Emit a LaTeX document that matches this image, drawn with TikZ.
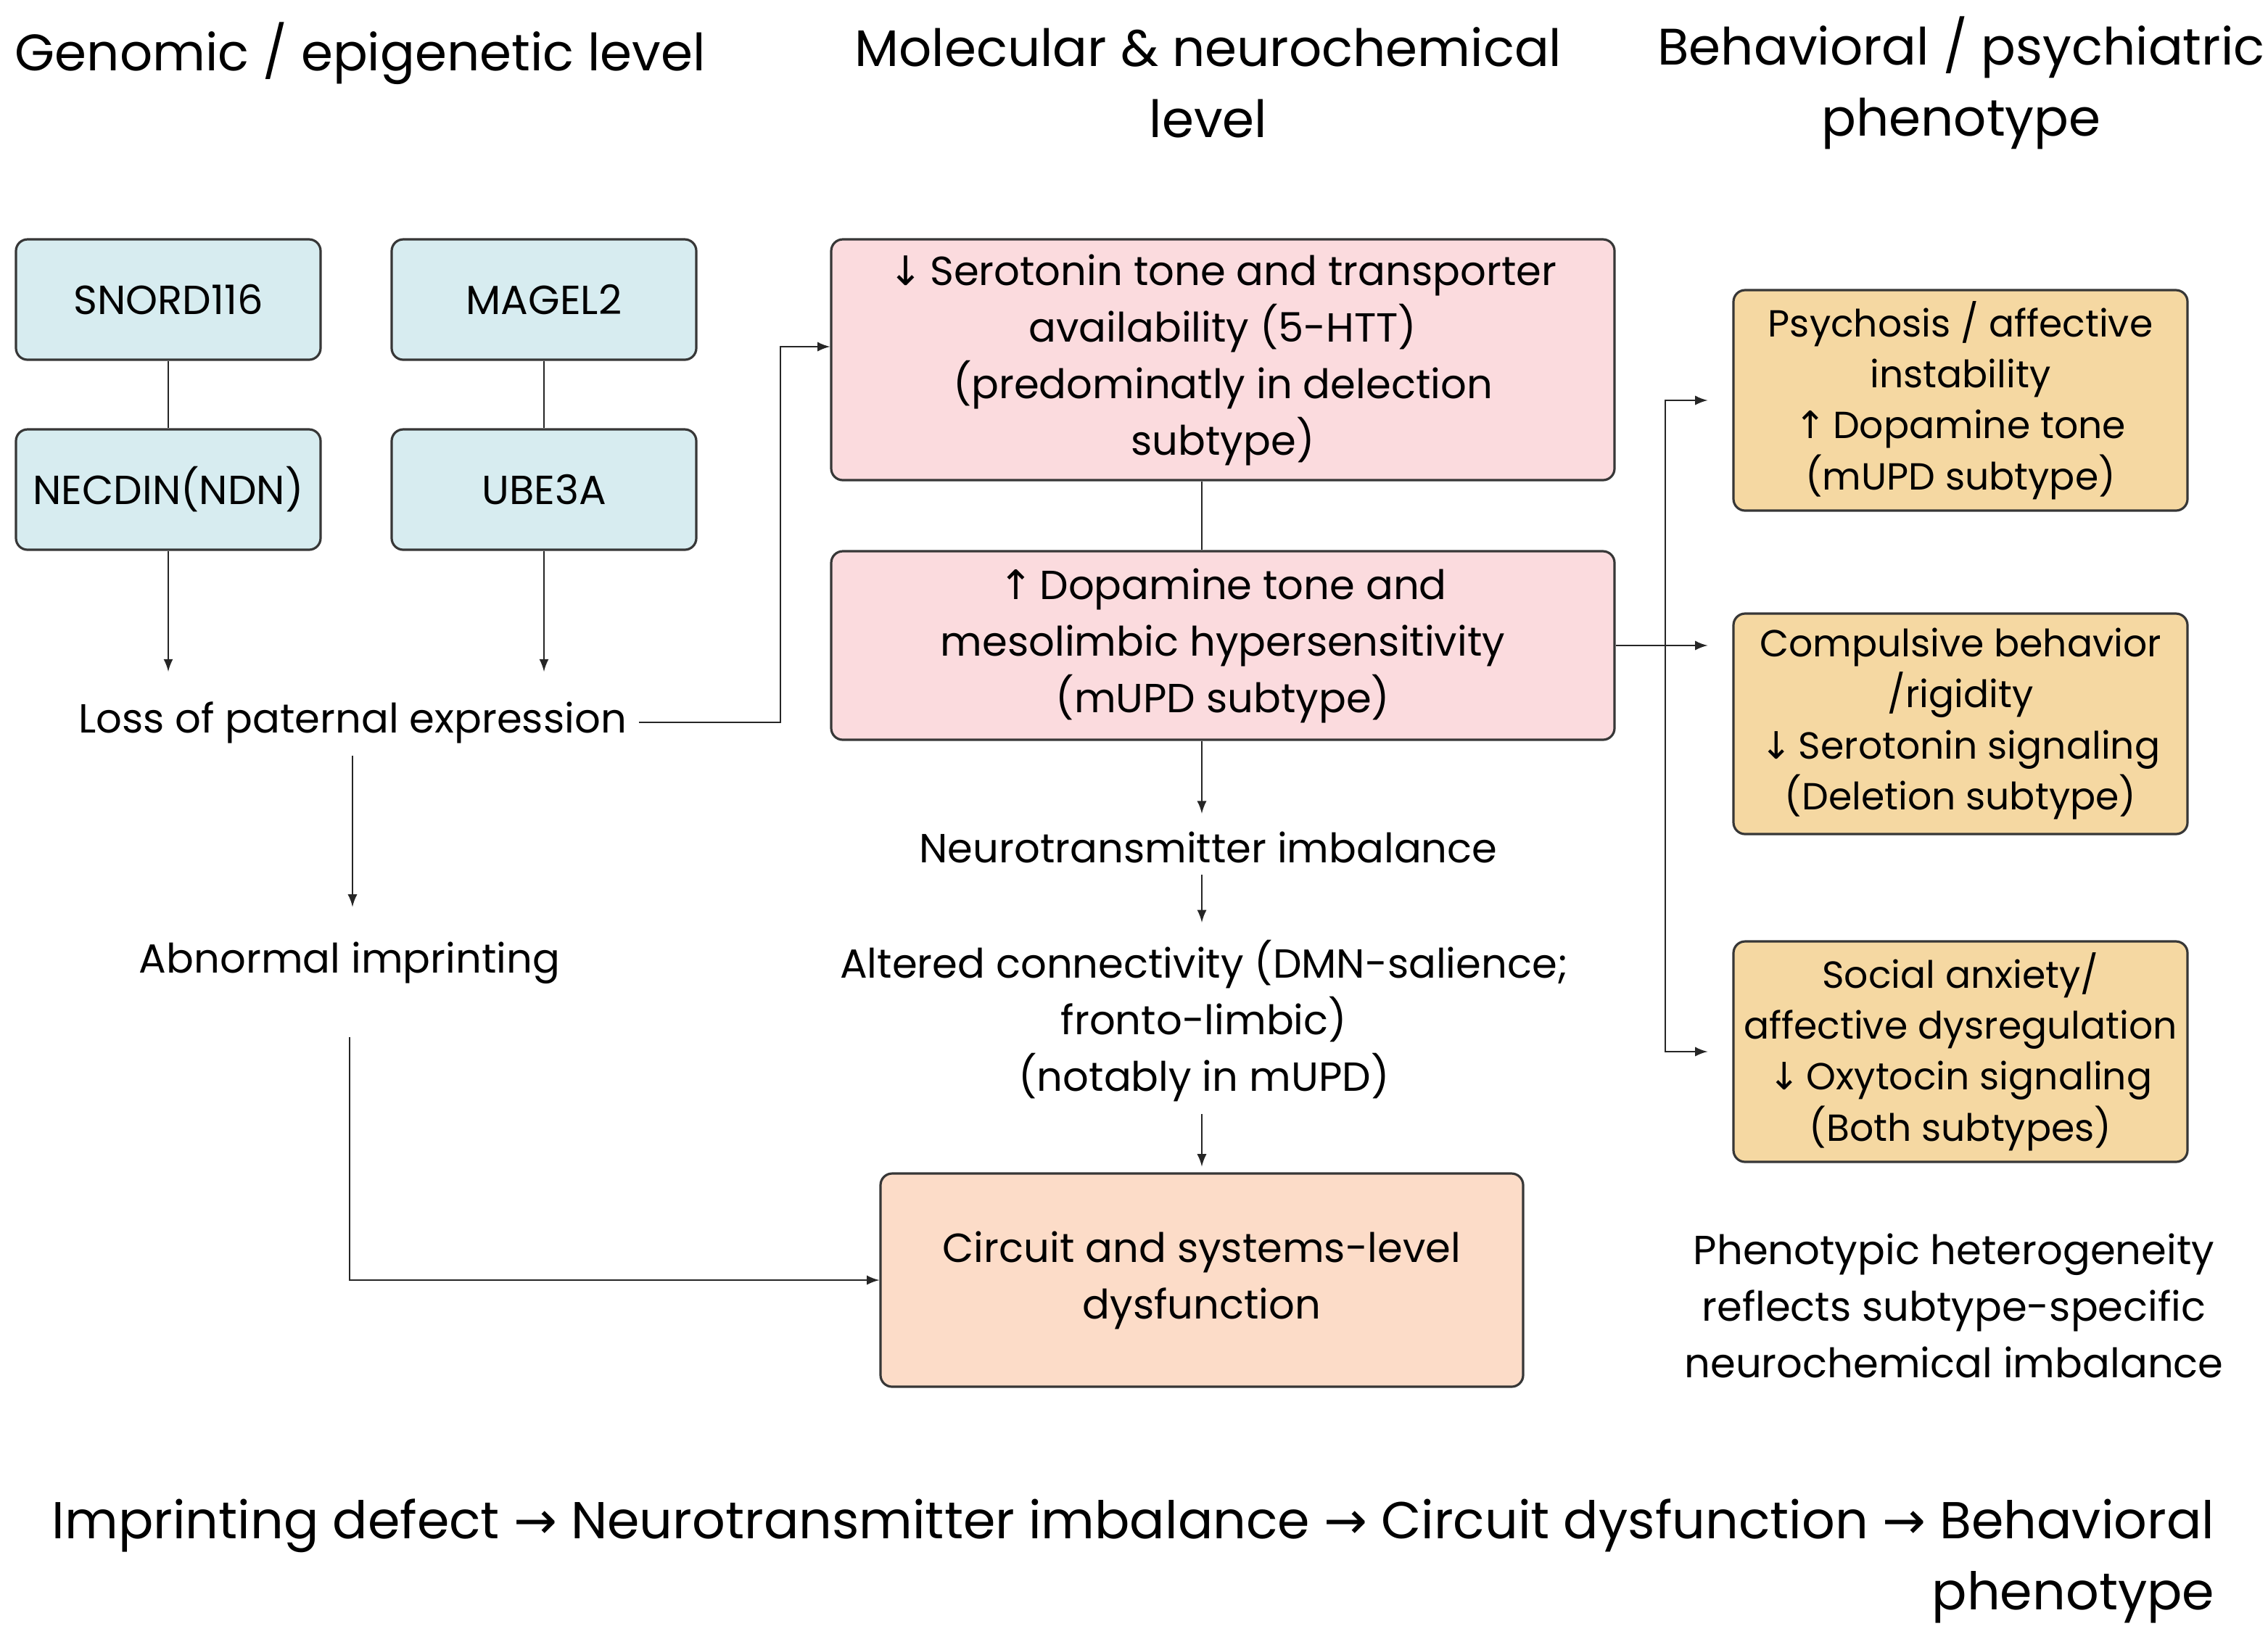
\documentclass[tikz,border=0pt]{standalone}
\usepackage{fontspec}
\setmainfont{Poppins}
\newfontfamily\symfont{DejaVu Sans}
\newcommand{\arrdn}{{\symfont ↓}}
\newcommand{\arrup}{{\symfont ↑}}
\newcommand{\arrrt}{{\symfont →}}
\usetikzlibrary{positioning}
\definecolor{genefill}{RGB}{215,236,240}
\definecolor{chemfill}{RGB}{251,219,222}
\definecolor{circfill}{RGB}{252,220,200}
\definecolor{phenfill}{RGB}{245,216,162}
\definecolor{edge}{RGB}{55,55,55}

\begin{document}
\begin{tikzpicture}[x=0.5pt,y=-0.5pt,
    box/.style={draw=edge,line width=0.8pt,rounded corners=4pt,align=center,inner sep=0pt},
    gene/.style={box,fill=genefill,minimum width=105pt,minimum height=41.5pt,font=\fontsize{14}{19}\selectfont},
    chem/.style={box,fill=chemfill,minimum width=270pt,font=\fontsize{14}{19.5}\selectfont},
    phen/.style={box,fill=phenfill,minimum width=156.5pt,minimum height=76pt,font=\fontsize{13}{17.6}\selectfont},
    lbl/.style={align=center,inner sep=4pt,font=\fontsize{14}{19.5}\selectfont},
    head/.style={align=center,inner sep=0pt,font=\fontsize{17.7}{24.5}\selectfont},
    link/.style={line width=0.5pt,draw=black!85},
    >=latex]
            \useasboundingbox (0,0) rectangle (1563.5,1131.5);
            \node[head,anchor=west] (hgen) at (10,37) {Genomic / epigenetic level};
            \node[head] (hmol) at (833,57) {Molecular \& neurochemical\\level};
            \node[head] (hbeh) at (1352,57) {Behavioral / psychiatric\\phenotype};

            \node[gene] (snord) at (116,206.5) {SNORD116};
            \node[gene] (magel) at (375,206.5) {MAGEL2};
            \node[gene] (necdin) at (116,337.5) {NECDIN(NDN)};
            \node[gene] (ube) at (375,337.5) {UBE3A};
            \node[lbl] (loss) at (243,498) {Loss of paternal expression};
            \node[lbl] (abn) at (241,664) {Abnormal imprinting};

            \node[chem,minimum height=83pt] (sero) at (843,248) {\arrdn\,Serotonin tone and transporter\\availability (5-HTT)\\(predominatly in delection\\subtype)};
            \node[chem,minimum height=65pt] (dopa) at (843,445) {\arrup\,Dopamine tone and\\mesolimbic hypersensitivity\\(mUPD subtype)};
            \node[lbl] (neuro) at (833,584) {Neurotransmitter imbalance};
            \node[lbl] (alter) at (830,704) {Altered connectivity (DMN-salience;\\fronto-limbic)\\(notably in mUPD)};
            \node[box,fill=circfill,minimum width=221.5pt,minimum height=73.5pt,font=\fontsize{14}{19.5}\selectfont] (circ) at (828.5,882.5) {Circuit and systems-level\\dysfunction};

            \node[phen] (psy) at (1351.5,276) {Psychosis / affective\\instability\\\arrup\,Dopamine tone\\(mUPD subtype)};
            \node[phen] (comp) at (1351.5,499) {Compulsive behavior\\/rigidity\\\arrdn\,Serotonin signaling\\(Deletion subtype)};
            \node[phen] (soc) at (1351.5,725) {Social anxiety/\\affective dysregulation\\\arrdn\,Oxytocin signaling\\(Both subtypes)};
            \node[lbl] (hetero) at (1347,900) {Phenotypic heterogeneity\\reflects subtype-specific\\neurochemical imbalance};

            \node[head,font=\fontsize{17.9}{24.5}\selectfont,align=right,anchor=east] (chain) at (1527,1076) {Imprinting defect \arrrt\ Neurotransmitter imbalance \arrrt\ Circuit dysfunction \arrrt\ Behavioral\\phenotype};

            % genomic column
            \coordinate (lossin) at (0,463);
            \draw[link] (snord) -- (necdin);
            \draw[link] (magel) -- (ube);
            \draw[link,->] (necdin) -- (necdin |- lossin);
            \draw[link,->] (ube) -- (ube |- lossin);
            \coordinate (jn) at (538,498);
            \draw[link,->] (loss.east) -- (jn) |- ([yshift=4.5pt]sero.west);
            \draw[link,->,shorten >=8pt] (loss.south) -- (loss.south |- abn.north);
            \draw[link,->,shorten <=14pt] (abn) |- (circ.west);

            % molecular column
            \draw[link] (sero.south -| circ) -- (dopa.north -| circ);
            \draw[link,->,shorten >=2pt] (dopa.south -| circ) -- (neuro.north -| circ);
            \draw[link,->,shorten >=2pt] (neuro.south -| circ) -- (alter.north -| circ);
            \draw[link,->,shorten >=2pt] (alter.south -| circ) -- (circ);

            % phenotype fan-out
            \coordinate (bus) at (1148,447);
            \draw[link,->,shorten >=8.5pt] (dopa.east) -- (dopa.east -| comp.west);
            \draw[link,->,shorten >=8.5pt] (bus) |- (psy.west);
            \draw[link,->,shorten >=8.5pt] (bus) |- (soc.west);
\end{tikzpicture}
\end{document}
